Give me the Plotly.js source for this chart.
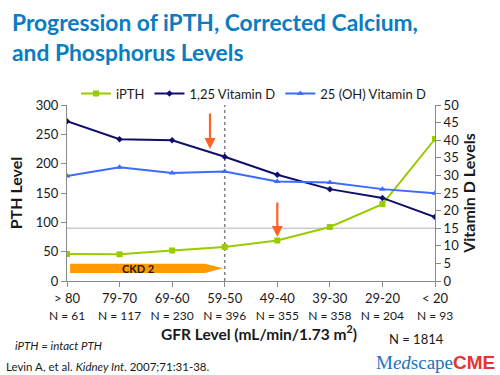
<!DOCTYPE html>
<html>
<head>
<meta charset="utf-8">
<script src="https://cdn.plot.ly/plotly-3.0.1.min.js"></script>
<style>html,body{margin:0;padding:0;background:#fff;}#chart{width:500px;height:375px;}</style>
</head>
<body>
<div id="chart"></div>
<script>
// ---- data ----
var categories = ['&gt; 80', '79-70', '69-60', '59-50', '49-40', '39-30', '29-20', '&lt; 20'];
var nCounts = [61, 117, 230, 396, 355, 358, 204, 93];
var iPTH = [46, 45.5, 52, 58, 69, 92, 131, 242];          // left axis (PTH level)
var vitD125 = [45.4, 40.3, 40, 35.3, 30.2, 26.1, 23.6, 18.2]; // right axis
var vitD25OH = [29.8, 32.3, 30.7, 31.1, 28.3, 28, 26.1, 24.9]; // right axis
var totalN = 1814;

var xIdx = categories.map(function(_, i){ return i; });
var tickText = categories.map(function(c, i){
  return c + '<br><span style="font-size:12px">N = ' + nCounts[i] + '</span>';
});

var FONT = 'Lato, "Open Sans", sans-serif';

var traces = [
  {x: xIdx, y: iPTH, name: 'iPTH', type: 'scatter', mode: 'lines+markers', yaxis: 'y',
   line: {color: '#99cc00', width: 2}, marker: {symbol: 'square', size: 6, color: '#99cc00'}},
  {x: xIdx, y: vitD125, name: '1,25 Vitamin D', type: 'scatter', mode: 'lines+markers', yaxis: 'y2',
   line: {color: '#0f0f6b', width: 2}, marker: {symbol: 'diamond', size: 5, color: '#0f0f6b'}},
  {x: xIdx, y: vitD25OH, name: '25 (OH) Vitamin D', type: 'scatter', mode: 'lines+markers', yaxis: 'y2',
   line: {color: '#3d6bff', width: 2}, marker: {symbol: 'triangle-up', size: 6, color: '#3d6bff'}}
];

var layout = {
  width: 500, height: 375,
  margin: {l: 67, r: 65, t: 105, b: 94, pad: 0},
  paper_bgcolor: '#ffffff', plot_bgcolor: '#ffffff',
  font: {family: FONT, size: 12, color: '#1a1a1a'},
  showlegend: true,
  title: {
    text: 'Progression of iPTH, Corrected Calcium,<br>and Phosphorus Levels',
    x: 12/500, xref: 'container', xanchor: 'left',
    y: 1 - 31/375, yref: 'container', yanchor: 'top',
    font: {family: FONT, size: 22.8, color: '#0a7cc1', weight: 'bold'}
  },
  legend: {orientation: 'h', x: (76-67)/368, xanchor: 'left', y: 1.065, yanchor: 'middle',
    font: {family: FONT, size: 13, color: '#1a1a1a'}, bgcolor: 'rgba(0,0,0,0)', itemwidth: 30, tracegroupgap: 0},
  xaxis: {
    range: [0, 7], tickvals: xIdx, ticktext: tickText,
    showline: true, linecolor: '#8a8a8a', linewidth: 1,
    ticks: 'outside', ticklen: 5, tickcolor: '#8a8a8a',
    showgrid: false, zeroline: false, tickfont: {size: 13, family: FONT, color: '#1a1a1a'}
  },
  yaxis: {
    range: [0, 300], dtick: 50, showline: true, linecolor: '#8a8a8a', linewidth: 1,
    ticks: 'outside', ticklen: 5, tickcolor: '#8a8a8a', showgrid: false, zeroline: false,
    tickfont: {size: 13, family: FONT, color: '#1a1a1a'},
    title: {text: 'PTH Level', standoff: 9, font: {family: FONT, size: 16, color: '#1a1a1a', weight: 'bold'}}
  },
  yaxis2: {
    range: [0, 50], dtick: 5, overlaying: 'y', side: 'right', showline: true, linecolor: '#8a8a8a', linewidth: 1,
    ticks: 'outside', ticklen: 5, tickcolor: '#8a8a8a', showgrid: false, zeroline: false,
    tickfont: {size: 13, family: FONT, color: '#1a1a1a'},
    title: {text: 'Vitamin D Levels', standoff: 4, font: {family: FONT, size: 16, color: '#1a1a1a', weight: 'bold'}}
  },
  shapes: [
    {type: 'line', xref: 'paper', x0: 0, x1: 1, yref: 'y', y0: 90, y1: 90,
     line: {color: '#cccccc', width: 1.5}, layer: 'below'},
    {type: 'line', xref: 'x', x0: 3, x1: 3, yref: 'paper', y0: 0, y1: 1,
     line: {color: '#808080', width: 1.5, dash: 'dot'}, layer: 'below'},
    {type: 'path', xref: 'x', yref: 'y',
     path: 'M 0.06 13.6 L 2.62 13.6 L 2.97 21.6 L 2.62 29.6 L 0.06 29.6 Z',
     fillcolor: '#ff9900', line: {width: 0}, layer: 'below'}
  ],
  annotations: [
    {x: 1.35, y: 21.6, xref: 'x', yref: 'y', text: '<b>CKD 2</b>', showarrow: false,
     font: {family: FONT, size: 11, color: '#1a1a1a'}},
    {x: 2.72, y: 225, xref: 'x', yref: 'y', text: '', showarrow: true, ax: 0, ay: -37,
     arrowcolor: '#ff6326', arrowwidth: 2.2, arrowhead: 2, arrowsize: 1},
    {x: 4, y: 75, xref: 'x', yref: 'y', text: '', showarrow: true, ax: 0, ay: -36,
     arrowcolor: '#ff6326', arrowwidth: 2.2, arrowhead: 2, arrowsize: 1},
    {x: (259-67)/368, y: (281-332)/176, xref: 'paper', yref: 'paper',
     text: '<b>GFR Level (mL/min/1.73 m<sup>2</sup>)</b>', showarrow: false,
     font: {family: FONT, size: 15.5, color: '#1a1a1a'}, xanchor: 'center', yanchor: 'middle'},
    {x: (416-67)/368, y: (281-339)/176, xref: 'paper', yref: 'paper', text: 'N = ' + totalN,
     showarrow: false, font: {family: FONT, size: 13, color: '#1a1a1a'}, xanchor: 'center', yanchor: 'middle'},
    {x: (13-67)/368, y: (281-345)/176, xref: 'paper', yref: 'paper', text: '<i>iPTH = intact PTH</i>',
     showarrow: false, font: {family: FONT, size: 11.5, color: '#1a1a1a'}, xanchor: 'left', yanchor: 'middle'},
    {x: (4-67)/368, y: (281-366)/176, xref: 'paper', yref: 'paper',
     text: 'Levin A, et al. <i>Kidney Int</i>. 2007;71:31-38.',
     showarrow: false, font: {family: FONT, size: 11.5, color: '#1a1a1a'}, xanchor: 'left', yanchor: 'middle'},
    {x: (374-67)/368, y: (281-362)/176, xref: 'paper', yref: 'paper',
     text: '<span style="font-family:\'Liberation Serif\', serif;color:#1b74bb">M<i>ed</i>scape</span><span style="font-family:\'Liberation Sans\', sans-serif;font-weight:bold;color:#e8332f">CME</span>',
     showarrow: false, font: {size: 19, color: '#1b74bb'}, xanchor: 'left', yanchor: 'middle'}
  ]
};

Plotly.newPlot('chart', traces, layout, {displayModeBar: false, staticPlot: true});
</script>
</body>
</html>
